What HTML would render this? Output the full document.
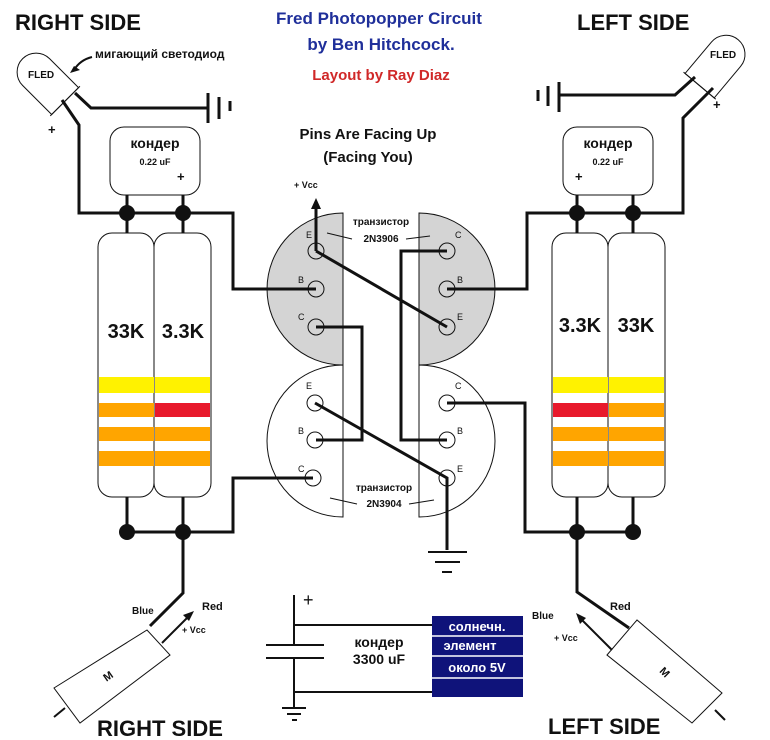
<!DOCTYPE html>
<html><head><meta charset="utf-8"><style>
body{margin:0;background:#fff}
svg{display:block}
text{font-family:"Liberation Sans",Arial,sans-serif;font-weight:bold}
</style></head><body>
<svg width="770" height="740" viewBox="0 0 770 740" xmlns="http://www.w3.org/2000/svg">
<rect width="770" height="740" fill="#fff"/>
<text x="15" y="30" font-size="22" fill="#111">RIGHT SIDE</text>
<text x="577" y="30" font-size="22" fill="#111">LEFT SIDE</text>
<text x="379" y="24" font-size="17" fill="#1f2f9a" text-anchor="middle">Fred Photopopper Circuit</text>
<text x="381" y="50" font-size="17" fill="#1f2f9a" text-anchor="middle">by Ben Hitchcock.</text>
<text x="381" y="80" font-size="15" fill="#d02828" text-anchor="middle">Layout by Ray Diaz</text>
<text x="368" y="139" font-size="15" fill="#111" text-anchor="middle">Pins Are Facing Up</text>
<text x="368" y="162" font-size="15" fill="#111" text-anchor="middle">(Facing You)</text>
<text x="97" y="736" font-size="22" fill="#111">RIGHT SIDE</text>
<text x="548" y="734" font-size="22" fill="#111">LEFT SIDE</text>

<g transform="translate(46,82) rotate(-45)">
<path d="M-19,27 L-19,-14 A19,19 0 0 1 19,-14 L19,27 Z" fill="#fff" stroke="#111" stroke-width="1"/>
<line x1="-21" y1="27" x2="21" y2="27" stroke="#111"/>
</g>
<text x="28" y="78" font-size="10" fill="#111">FLED</text>
<text x="95" y="58" font-size="12" fill="#111">мигающий светодиод</text>
<path d="M92,57 Q80,60 74,70" fill="none" stroke="#111" stroke-width="2"/>
<path d="M70,73 L80,70 L74,66 Z" fill="#111"/>
<polyline points="62,100 79,125 79,213 127,213" fill="none" stroke="#111" stroke-width="3"/>
<polyline points="75,93 91,108 207,108" fill="none" stroke="#111" stroke-width="3"/>
<line x1="208" y1="93" x2="208" y2="123" stroke="#111" stroke-width="3"/>
<line x1="219" y1="97" x2="219" y2="119" stroke="#111" stroke-width="3"/>
<line x1="230" y1="101" x2="230" y2="111" stroke="#111" stroke-width="3"/>
<text x="48" y="134" font-size="13" fill="#111">+</text>

<g transform="translate(717,65) rotate(40)">
<path d="M-19,27 L-19,-14 A19,19 0 0 1 19,-14 L19,27 Z" fill="#fff" stroke="#111" stroke-width="1"/>
<line x1="-21" y1="27" x2="21" y2="27" stroke="#111"/>
</g>
<text x="710" y="58" font-size="10" fill="#111">FLED</text>
<polyline points="713,88 683,118 683,213 633,213" fill="none" stroke="#111" stroke-width="3"/>
<polyline points="695,77 675,95 560,95" fill="none" stroke="#111" stroke-width="3"/>
<line x1="559" y1="82" x2="559" y2="112" stroke="#111" stroke-width="3"/>
<line x1="548" y1="86" x2="548" y2="106" stroke="#111" stroke-width="3"/>
<line x1="538" y1="90" x2="538" y2="101" stroke="#111" stroke-width="3"/>
<text x="713" y="109" font-size="13" fill="#111">+</text>

<rect x="110" y="127" width="90" height="68" rx="14" fill="#fff" stroke="#111"/>
<text x="155" y="148" font-size="14" fill="#111" text-anchor="middle">кондер</text>
<text x="155" y="165" font-size="9" fill="#111" text-anchor="middle">0.22 uF</text>
<text x="177" y="181" font-size="13" fill="#111">+</text>
<rect x="563" y="127" width="90" height="68" rx="14" fill="#fff" stroke="#111"/>
<text x="608" y="148" font-size="14" fill="#111" text-anchor="middle">кондер</text>
<text x="608" y="165" font-size="9" fill="#111" text-anchor="middle">0.22 uF</text>
<text x="575" y="181" font-size="13" fill="#111">+</text>

<g stroke="#111" stroke-width="3" fill="none">
<line x1="127" y1="195" x2="127" y2="233"/>
<line x1="183" y1="195" x2="183" y2="233"/>
<line x1="577" y1="195" x2="577" y2="233"/>
<line x1="633" y1="195" x2="633" y2="233"/>
<line x1="127" y1="497" x2="127" y2="532"/>
<line x1="183" y1="497" x2="183" y2="532"/>
<line x1="577" y1="497" x2="577" y2="532"/>
<line x1="633" y1="497" x2="633" y2="532"/>
<line x1="127" y1="532" x2="183" y2="532"/>
<line x1="577" y1="532" x2="633" y2="532"/>
</g>

<path d="M343,213 A76,76 0 0 0 343,365 Z" fill="#d4d4d4" stroke="#111"/>
<path d="M419,213 A76,76 0 0 1 419,365 Z" fill="#d4d4d4" stroke="#111"/>
<path d="M343,365 A76,76 0 0 0 343,517 Z" fill="#fff" stroke="#111"/>
<path d="M419,365 A76,76 0 0 1 419,517 Z" fill="#fff" stroke="#111"/>
<g fill="none" stroke="#111" stroke-width="1">
<circle cx="316" cy="251" r="8"/><circle cx="316" cy="289" r="8"/><circle cx="316" cy="327" r="8"/>
<circle cx="447" cy="251" r="8"/><circle cx="447" cy="289" r="8"/><circle cx="447" cy="327" r="8"/>
<circle cx="315" cy="403" r="8"/><circle cx="315" cy="440" r="8"/><circle cx="313" cy="478" r="8"/>
<circle cx="447" cy="403" r="8"/><circle cx="447" cy="440" r="8"/><circle cx="447" cy="478" r="8"/>
<line x1="327" y1="233" x2="352" y2="239"/><line x1="406" y1="239" x2="430" y2="236"/>
<line x1="330" y1="498" x2="357" y2="504"/><line x1="409" y1="504" x2="434" y2="500"/>
</g>
<g font-size="9" fill="#111">
<text x="306" y="238" style="font-weight:normal">E</text><text x="298" y="283" style="font-weight:normal">B</text><text x="298" y="320" style="font-weight:normal">C</text>
<text x="455" y="238" style="font-weight:normal">C</text><text x="457" y="283" style="font-weight:normal">B</text><text x="457" y="320" style="font-weight:normal">E</text>
<text x="306" y="389" style="font-weight:normal">E</text><text x="298" y="434" style="font-weight:normal">B</text><text x="298" y="472" style="font-weight:normal">C</text>
<text x="455" y="389" style="font-weight:normal">C</text><text x="457" y="434" style="font-weight:normal">B</text><text x="457" y="472" style="font-weight:normal">E</text>
</g>
<text x="381" y="225" font-size="10" fill="#111" text-anchor="middle">транзистор</text>
<text x="381" y="242" font-size="10" fill="#111" text-anchor="middle">2N3906</text>
<text x="384" y="491" font-size="10" fill="#111" text-anchor="middle">транзистор</text>
<text x="384" y="507" font-size="10" fill="#111" text-anchor="middle">2N3904</text>
<text x="294" y="188" font-size="9" fill="#111">+ Vcc</text>

<g stroke="#111" stroke-width="3" fill="none">
<polyline points="316,251 316,206"/>
<polyline points="316,251 447,327"/>
<polyline points="316,289 233,289 233,213 183,213"/>
<polyline points="316,327 362,327 362,440 316,440"/>
<polyline points="447,251 401,251 401,440 447,440"/>
<polyline points="447,289 527,289 527,213 577,213"/>
<polyline points="315,403 447,478 447,550"/>
<polyline points="447,403 525,403 525,532 577,532"/>
<polyline points="313,478 233,478 233,532 183,532"/>
<polyline points="183,532 183,593 150,626"/>
<polyline points="127,213 183,213"/>
<polyline points="577,213 633,213"/>
<polyline points="577,532 577,592 629,628"/>
</g>
<path d="M316,198 L311,209 L321,209 Z" fill="#111"/>
<g stroke="#111" stroke-width="2">
<line x1="428" y1="552" x2="467" y2="552"/>
<line x1="435" y1="562" x2="460" y2="562"/>
<line x1="442" y1="572" x2="452" y2="572"/>
</g>

<g stroke="#111" stroke-width="1">
<rect x="98" y="233" width="56" height="264" rx="14" fill="#fff"/>
<rect x="154" y="233" width="57" height="264" rx="14" fill="#fff"/>
<rect x="552" y="233" width="56" height="264" rx="14" fill="#fff"/>
<rect x="608" y="233" width="57" height="264" rx="14" fill="#fff"/>
</g>
<g>
<rect x="99" y="377" width="55" height="16" fill="#fff200"/>
<rect x="99" y="403" width="55" height="14" fill="#ffa500"/>
<rect x="99" y="427" width="55" height="14" fill="#ffa500"/>
<rect x="99" y="451" width="55" height="15" fill="#ffa500"/>
<rect x="155" y="377" width="55" height="16" fill="#fff200"/>
<rect x="155" y="403" width="55" height="14" fill="#e8192c"/>
<rect x="155" y="427" width="55" height="14" fill="#ffa500"/>
<rect x="155" y="451" width="55" height="15" fill="#ffa500"/>
<rect x="553" y="377" width="55" height="16" fill="#fff200"/>
<rect x="553" y="403" width="55" height="14" fill="#e8192c"/>
<rect x="553" y="427" width="55" height="14" fill="#ffa500"/>
<rect x="553" y="451" width="55" height="15" fill="#ffa500"/>
<rect x="609" y="377" width="55" height="16" fill="#fff200"/>
<rect x="609" y="403" width="55" height="14" fill="#ffa500"/>
<rect x="609" y="427" width="55" height="14" fill="#ffa500"/>
<rect x="609" y="451" width="55" height="15" fill="#ffa500"/>
</g>
<text x="126" y="338" font-size="20" fill="#111" text-anchor="middle">33K</text>
<text x="183" y="338" font-size="20" fill="#111" text-anchor="middle">3.3K</text>
<text x="580" y="332" font-size="20" fill="#111" text-anchor="middle">3.3K</text>
<text x="636" y="332" font-size="20" fill="#111" text-anchor="middle">33K</text>

<g fill="#111">
<circle cx="127" cy="213" r="8"/><circle cx="183" cy="213" r="8"/>
<circle cx="577" cy="213" r="8"/><circle cx="633" cy="213" r="8"/>
<circle cx="127" cy="532" r="8"/><circle cx="183" cy="532" r="8"/>
<circle cx="577" cy="532" r="8"/><circle cx="633" cy="532" r="8"/>
</g>

<polygon points="54,688 147,630 170,655 80,723" fill="#fff" stroke="#111"/>
<text x="108" y="680" font-size="11" fill="#111" transform="rotate(-35 108 676)" text-anchor="middle">M</text>
<line x1="54" y1="717" x2="65" y2="708" stroke="#111" stroke-width="2"/>
<line x1="162" y1="643" x2="190" y2="615" stroke="#111" stroke-width="2"/>
<path d="M194,611 L183,615 L189,621 Z" fill="#111"/>
<text x="132" y="614" font-size="10" fill="#111">Blue</text>
<text x="202" y="610" font-size="11" fill="#111">Red</text>
<text x="182" y="633" font-size="9" fill="#111">+ Vcc</text>

<polygon points="607,655 637,620 722,693 692,723" fill="#fff" stroke="#111"/>
<text x="665" y="676" font-size="11" fill="#111" transform="rotate(45 665 672)" text-anchor="middle">M</text>
<line x1="715" y1="710" x2="725" y2="720" stroke="#111" stroke-width="2"/>
<line x1="612" y1="650" x2="580" y2="618" stroke="#111" stroke-width="2"/>
<path d="M576,613 L580,624 L586,618 Z" fill="#111"/>
<text x="532" y="619" font-size="10" fill="#111">Blue</text>
<text x="610" y="610" font-size="11" fill="#111">Red</text>
<text x="554" y="641" font-size="9" fill="#111">+ Vcc</text>

<g stroke="#111" stroke-width="2" fill="none">
<line x1="294" y1="595" x2="294" y2="645"/>
<line x1="294" y1="658" x2="294" y2="708"/>
<line x1="266" y1="645" x2="324" y2="645"/>
<line x1="266" y1="658" x2="324" y2="658"/>
<line x1="294" y1="625" x2="432" y2="625"/>
<line x1="294" y1="692" x2="432" y2="692"/>
<line x1="282" y1="708" x2="306" y2="708"/>
<line x1="287" y1="714" x2="301" y2="714"/>
<line x1="292" y1="720" x2="297" y2="720"/>
</g>
<text x="303" y="606" font-size="18" fill="#111" style="font-weight:normal">+</text>
<text x="379" y="647" font-size="14" fill="#111" text-anchor="middle">кондер</text>
<text x="379" y="664" font-size="14" fill="#111" text-anchor="middle">3300 uF</text>
<rect x="432" y="616" width="91" height="81" fill="#0f137a"/>
<g stroke="#fff" stroke-width="1.5">
<line x1="432" y1="636" x2="523" y2="636"/>
<line x1="432" y1="656" x2="523" y2="656"/>
<line x1="432" y1="678" x2="523" y2="678"/>
</g>
<text x="477" y="631" font-size="13" fill="#fff" text-anchor="middle">солнечн.</text>
<text x="470" y="650" font-size="13" fill="#fff" text-anchor="middle">элемент</text>
<text x="477" y="672" font-size="13" fill="#fff" text-anchor="middle">около  5V</text>
</svg>
</body></html>
